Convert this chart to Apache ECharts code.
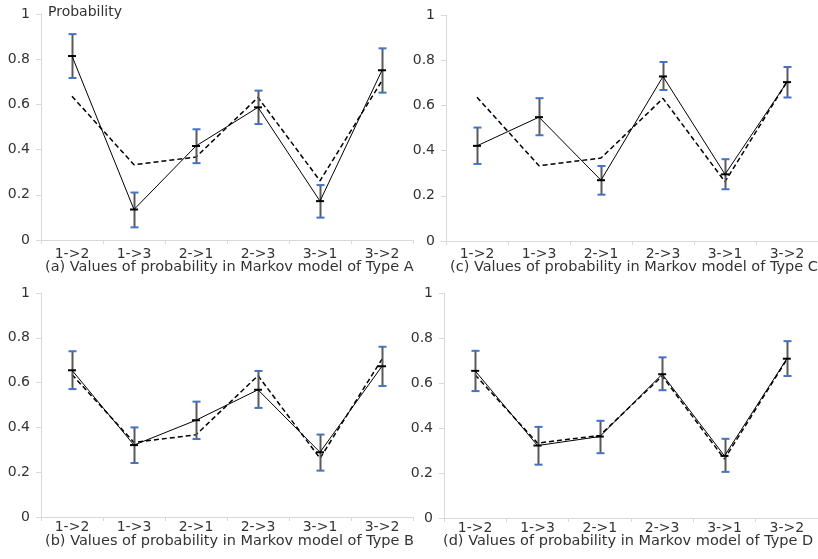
<!DOCTYPE html>
<html>
<head>
<meta charset="utf-8">
<script src="https://cdn.jsdelivr.net/npm/echarts@6/dist/echarts.min.js"></script>
<style>html,body{margin:0;padding:0;background:#fff}#c{width:818px;height:559px}</style>
</head>
<body>
<div id="c"></div>
<script>
var categories = ['1->2', '1->3', '2->1', '2->3', '3->1', '3->2'];
var yTicks = [0, 0.2, 0.4, 0.6, 0.8, 1];
var reference = [0.636, 0.333, 0.367, 0.631, 0.262, 0.705];

var meanA = [0.814, 0.135, 0.416, 0.587, 0.172, 0.751];
var lowA  = [0.717, 0.056, 0.340, 0.513, 0.099, 0.652];
var highA = [0.911, 0.210, 0.490, 0.661, 0.243, 0.848];

var meanB = [0.655, 0.321, 0.432, 0.568, 0.289, 0.673];
var lowB  = [0.571, 0.241, 0.348, 0.487, 0.207, 0.585];
var highB = [0.740, 0.400, 0.515, 0.652, 0.368, 0.760];

var meanC = [0.421, 0.548, 0.269, 0.728, 0.295, 0.703];
var lowC  = [0.341, 0.468, 0.205, 0.668, 0.229, 0.635];
var highC = [0.502, 0.632, 0.332, 0.792, 0.362, 0.770];

var meanD = [0.654, 0.322, 0.362, 0.639, 0.276, 0.708];
var lowD  = [0.564, 0.237, 0.288, 0.568, 0.205, 0.631];
var highD = [0.743, 0.405, 0.432, 0.714, 0.352, 0.786];

var captions = [
  '(a) Values of probability in Markov model of Type A',
  '(c) Values of probability in Markov model of Type C',
  '(b) Values of probability in Markov model of Type B',
  '(d) Values of probability in Markov model of Type D'
];

var FONT = 'DejaVu Sans';
var FS = 14;
var panels = [
  {mean: meanA, low: lowA, high: highA, grid: {left: 41, top: 14, width: 372, height: 226}, cap: {left: 45, top: 260}, lm: 7},
  {mean: meanC, low: lowC, high: highC, grid: {left: 446, top: 15, width: 372, height: 226}, cap: {left: 450, top: 260}, lm: 6},
  {mean: meanB, low: lowB, high: highB, grid: {left: 41, top: 293, width: 372, height: 224}, cap: {left: 45, top: 534}, lm: 3},
  {mean: meanD, low: lowD, high: highD, grid: {left: 444, top: 293, width: 374, height: 225}, cap: {left: 443, top: 534}, lm: 3}
];

var grids = [], xAxes = [], yAxes = [], series = [], titles = [];
panels.forEach(function (p, i) {
  grids.push(p.grid);
  titles.push({text: captions[i], left: p.cap.left, top: p.cap.top, padding: 0,
    textStyle: {fontFamily: FONT, fontSize: 14.5, fontWeight: 'normal', color: '#333'}});
  xAxes.push({type: 'category', gridIndex: i, data: categories, boundaryGap: true,
    axisLine: {lineStyle: {color: '#d9d9d9', width: 1}},
    axisTick: {show: true, length: 4, lineStyle: {color: '#d9d9d9'}},
    axisLabel: {fontFamily: FONT, fontSize: FS, color: '#333', margin: p.lm}});
  yAxes.push({type: 'value', gridIndex: i, min: 0, max: 1, interval: 0.2,
    axisLine: {show: true, lineStyle: {color: '#d9d9d9', width: 1}},
    axisTick: {show: true, length: 5, lineStyle: {color: '#d9d9d9'}},
    splitLine: {show: false},
    axisLabel: {fontFamily: FONT, fontSize: FS, color: '#333', margin: 11,
      formatter: function (v) { return String(Math.round(v * 10) / 10); }}});
  series.push({type: 'line', xAxisIndex: i, yAxisIndex: i, data: reference,
    symbol: 'none', lineStyle: {color: '#000', width: 1.5, type: [5, 3]}, z: 2, silent: true});
  series.push({type: 'custom', xAxisIndex: i, yAxisIndex: i, z: 3, silent: true,
    data: p.low.map(function (l, k) { return [k, l, p.high[k]]; }),
    renderItem: function (params, api) {
      var a = api.coord([api.value(0), api.value(1)]);
      var b = api.coord([api.value(0), api.value(2)]);
      var x = Math.round(a[0]) + 0.5;
      var hw = 4;
      return {type: 'group', children: [
        {type: 'line', shape: {x1: x, y1: a[1], x2: x, y2: b[1]}, style: {stroke: '#595959', lineWidth: 2}},
        {type: 'line', shape: {x1: x - hw, y1: a[1], x2: x + hw, y2: a[1]}, style: {stroke: '#4472c4', lineWidth: 2}},
        {type: 'line', shape: {x1: x - hw, y1: b[1], x2: x + hw, y2: b[1]}, style: {stroke: '#4472c4', lineWidth: 2}}
      ]};
    }});
  series.push({type: 'line', xAxisIndex: i, yAxisIndex: i, data: p.mean,
    symbol: 'rect', symbolSize: [8, 2], itemStyle: {color: '#000'},
    lineStyle: {color: '#000', width: 1}, z: 4, silent: true});
});

var chart = echarts.init(document.getElementById('c'), null, {renderer: 'canvas'});
chart.setOption({
  animation: false,
  backgroundColor: '#fff',
  title: titles,
  graphic: [{type: 'text', left: 48, top: 5, style: {text: 'Probability', fontFamily: FONT, fontSize: FS, fill: '#333'}}],
  grid: grids,
  xAxis: xAxes,
  yAxis: yAxes,
  series: series
});
</script>
</body>
</html>
